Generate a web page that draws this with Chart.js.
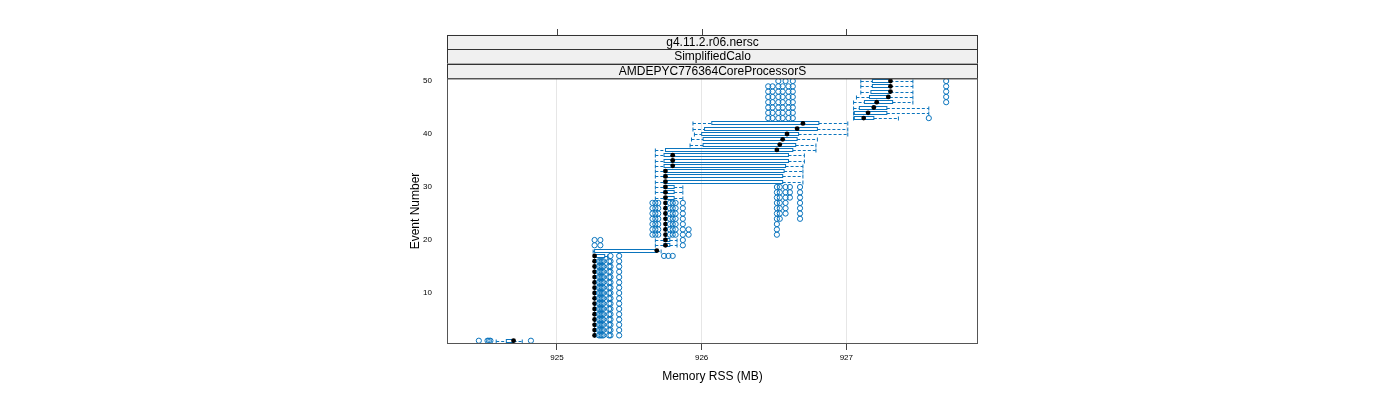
<!DOCTYPE html>
<html>
<head>
<meta charset="utf-8">
<title>Memory RSS per event</title>
<script src="https://cdn.jsdelivr.net/npm/chart.js@4.4.0/dist/chart.umd.min.js"></script>
<style>
    html, body { margin: 0; padding: 0; background: #fff; }
    #wrap { width: 1400px; height: 400px; }
</style>
</head>
<body>
<div id="wrap"><canvas id="rssChart" width="1400" height="400"></canvas></div>
<script>
// one row per event, values in MB
const eventNumbers = [1, 2, 3, 4, 5, 6, 7, 8, 9, 10, 11, 12, 13, 14, 15, 16, 17, 18, 19, 20, 21, 22, 23, 24, 25,
    26, 27, 28, 29, 30, 31, 32, 33, 34, 35, 36, 37, 38, 39, 40, 41, 42, 43, 44, 45, 46, 47, 48, 49, 50];

const whiskerLow = [924.58,
    925.26, 925.26, 925.26, 925.26, 925.26, 925.26, 925.26, 925.26, 925.26, 925.26, 925.26, 925.26, 925.26, 925.26, 925.26,
    925.26, 925.25, 925.68, 925.68,
    925.75, 925.75, 925.75, 925.75, 925.75, 925.75, 925.75,
    925.68, 925.68, 925.68,
    925.68, 925.68, 925.68, 925.68, 925.68, 925.68, 925.68,
    925.92, 925.93, 925.95, 925.94, 925.94,
    927.05, 927.05, 927.05, 927.05, 927.07, 927.10, 927.10, 927.10];

const boxLow = [924.65,
    925.26, 925.26, 925.26, 925.26, 925.26, 925.26, 925.26, 925.26, 925.26, 925.26, 925.26, 925.26, 925.26, 925.26, 925.26,
    925.26, 925.26, 925.74, 925.74,
    925.75, 925.75, 925.75, 925.75, 925.75, 925.75, 925.75,
    925.74, 925.74, 925.74,
    925.74, 925.74, 925.74, 925.74, 925.74, 925.74, 925.75,
    926.01, 926.01, 926.00, 926.02, 926.07,
    927.055, 927.055, 927.09, 927.125, 927.16, 927.17, 927.18, 927.18];

const medians = [924.70,
    925.26, 925.26, 925.26, 925.26, 925.26, 925.26, 925.26, 925.26, 925.26, 925.26, 925.26, 925.26, 925.26, 925.26, 925.26,
    925.26, 925.69, 925.75, 925.75,
    925.75, 925.75, 925.75, 925.75, 925.75, 925.75, 925.75,
    925.75, 925.75, 925.75,
    925.75, 925.75, 925.75, 925.80, 925.80, 925.80, 926.52,
    926.54, 926.56, 926.59, 926.66, 926.70,
    927.12, 927.15, 927.19, 927.21, 927.29, 927.305, 927.305, 927.305];

const boxHigh = [924.70,
    925.26, 925.26, 925.26, 925.26, 925.26, 925.26, 925.26, 925.26, 925.26, 925.26, 925.26, 925.26, 925.26, 925.26, 925.26,
    925.33, 925.69, 925.78, 925.78,
    925.75, 925.75, 925.75, 925.75, 925.75, 925.75, 925.75,
    925.81, 925.81, 925.81,
    926.56, 926.56, 926.57, 926.58, 926.60, 926.60, 926.63,
    926.65, 926.66, 926.67, 926.80, 926.81,
    927.19, 927.28, 927.28, 927.32, 927.30, 927.305, 927.305, 927.305];

const whiskerHigh = [924.76,
    925.26, 925.26, 925.26, 925.26, 925.26, 925.26, 925.26, 925.26, 925.26, 925.26, 925.26, 925.26, 925.26, 925.26, 925.26,
    925.35, 925.72, 925.83, 925.83,
    925.75, 925.75, 925.75, 925.75, 925.75, 925.75, 925.75,
    925.87, 925.87, 925.87,
    926.70, 926.70, 926.70, 926.70, 926.71, 926.71, 926.79,
    926.79, 926.80, 927.01, 927.01, 927.01,
    927.36, 927.57, 927.57, 927.46, 927.46, 927.46, 927.46, 927.46];

const outliers = [
    [924.46, 924.52, 924.53, 924.54, 924.82],
    [925.29, 925.30, 925.31, 925.32, 925.36, 925.37, 925.43],
    [925.29, 925.30, 925.31, 925.32, 925.36, 925.37, 925.43],
    [925.29, 925.30, 925.31, 925.32, 925.36, 925.37, 925.43],
    [925.29, 925.30, 925.31, 925.32, 925.36, 925.37, 925.43],
    [925.29, 925.30, 925.31, 925.32, 925.36, 925.37, 925.43],
    [925.29, 925.30, 925.31, 925.32, 925.36, 925.37, 925.43],
    [925.29, 925.30, 925.31, 925.32, 925.36, 925.37, 925.43],
    [925.29, 925.30, 925.31, 925.32, 925.36, 925.37, 925.43],
    [925.29, 925.30, 925.31, 925.32, 925.36, 925.37, 925.43],
    [925.29, 925.30, 925.31, 925.32, 925.36, 925.37, 925.43],
    [925.29, 925.30, 925.31, 925.32, 925.36, 925.37, 925.43],
    [925.29, 925.30, 925.31, 925.32, 925.36, 925.37, 925.43],
    [925.29, 925.30, 925.31, 925.32, 925.36, 925.37, 925.43],
    [925.29, 925.30, 925.31, 925.32, 925.36, 925.37, 925.43],
    [925.29, 925.30, 925.31, 925.32, 925.36, 925.37, 925.43],
    [925.37, 925.43, 925.74, 925.77, 925.80],
    [],
    [925.26, 925.30, 925.87],
    [925.26, 925.30, 925.87],
    [925.66, 925.68, 925.70, 925.78, 925.80, 925.82, 925.87, 925.91, 926.52],
    [925.66, 925.68, 925.70, 925.78, 925.80, 925.82, 925.87, 925.91, 926.52],
    [925.66, 925.68, 925.70, 925.78, 925.80, 925.82, 925.87, 926.52],
    [925.66, 925.68, 925.70, 925.78, 925.80, 925.82, 925.87, 926.52, 926.54, 926.68],
    [925.66, 925.68, 925.70, 925.78, 925.80, 925.82, 925.87, 926.52, 926.54, 926.58, 926.68],
    [925.66, 925.68, 925.70, 925.78, 925.80, 925.82, 925.87, 926.52, 926.54, 926.58, 926.68],
    [925.66, 925.68, 925.70, 925.78, 925.80, 925.82, 925.87, 926.52, 926.54, 926.58, 926.68],
    [926.52, 926.54, 926.58, 926.61, 926.68],
    [926.52, 926.54, 926.58, 926.61, 926.68],
    [926.52, 926.54, 926.58, 926.61, 926.68],
    [], [], [], [], [], [], [], [], [], [], [], [],
    [926.46, 926.49, 926.53, 926.56, 926.60, 926.63, 927.57],
    [926.46, 926.49, 926.53, 926.56, 926.60, 926.63],
    [926.46, 926.49, 926.53, 926.56, 926.60, 926.63],
    [926.46, 926.49, 926.53, 926.56, 926.60, 926.63, 927.69],
    [926.46, 926.49, 926.53, 926.56, 926.60, 926.63, 927.69],
    [926.46, 926.49, 926.53, 926.56, 926.60, 926.63, 927.69],
    [926.46, 926.49, 926.53, 926.56, 926.60, 926.63, 927.69],
    [926.53, 926.58, 926.63, 927.69]
];

const xTicks = [925, 926, 927];
const yTicks = [10, 20, 30, 40, 50];
const stripLabels = ['g4.11.2.r06.nersc', 'SimplifiedCalo', 'AMDEPYC776364CoreProcessorS'];

const BLUE = '#0a74bd';

Chart.defaults.font.family = '"Liberation Sans", Arial, Helvetica, sans-serif';
Chart.defaults.color = '#000';

// boxes + dashed whiskers, strips and panel frame
const boxPlotPlugin = {
    id: 'boxPlot',
    beforeDatasetsDraw(chart) {
        const { ctx, chartArea, scales: { x, y } } = chart;
        ctx.save();
        ctx.beginPath();
        ctx.rect(chartArea.left, chartArea.top, chartArea.width, chartArea.height);
        ctx.clip();
        ctx.strokeStyle = BLUE;
        ctx.lineWidth = 1;
        eventNumbers.forEach((ev, i) => {
            const cy = Math.round(y.getPixelForValue(ev));
            const py = cy + 0.5;
            const wl = x.getPixelForValue(whiskerLow[i]);
            const bl = x.getPixelForValue(boxLow[i]);
            const bh = x.getPixelForValue(boxHigh[i]);
            const wh = x.getPixelForValue(whiskerHigh[i]);

            ctx.setLineDash([3, 2]);
            ctx.beginPath();
            ctx.moveTo(wl, py); ctx.lineTo(bl, py);
            ctx.moveTo(bh, py); ctx.lineTo(wh, py);
            ctx.stroke();

            ctx.setLineDash([]);
            ctx.beginPath();
            ctx.moveTo(wl, py - 2); ctx.lineTo(wl, py + 2);
            ctx.moveTo(wh, py - 2); ctx.lineTo(wh, py + 2);
            ctx.stroke();

            ctx.strokeRect(bl, cy - 1.5, Math.max(bh - bl, 0.5), 3);
        });
        ctx.restore();
    },
    afterDraw(chart) {
        const { ctx, chartArea, scales: { x } } = chart;
        const { left, right, top, bottom } = chartArea;
        ctx.save();

        // strips
        const stripH = 14.4;
        const stripTop = top - stripH * stripLabels.length;
        ctx.font = '12px "Liberation Sans", Arial, sans-serif';
        ctx.textAlign = 'center';
        ctx.textBaseline = 'middle';
        stripLabels.forEach((label, k) => {
            const sy = stripTop + k * stripH;
            ctx.fillStyle = '#f0f0f0';
            ctx.fillRect(left, sy, right - left, stripH);
            ctx.strokeStyle = '#333';
            ctx.lineWidth = 1;
            ctx.strokeRect(left + 0.5, Math.round(sy) + 0.5, right - left - 1, stripH);
            ctx.fillStyle = '#000';
            ctx.fillText(label, (left + right) / 2, sy + stripH / 2 + 0.5);
        });

        // top tick marks
        ctx.strokeStyle = '#444';
        ctx.beginPath();
        xTicks.forEach(v => {
            const px = Math.round(x.getPixelForValue(v)) + 0.5;
            ctx.moveTo(px, Math.round(stripTop) - 6);
            ctx.lineTo(px, Math.round(stripTop));
        });
        ctx.stroke();

        // panel frame
        ctx.strokeStyle = '#555';
        ctx.strokeRect(left + 0.5, top + 0.5, right - left - 1, bottom - top - 1);
        ctx.restore();
    }
};

const medianPoints = eventNumbers.map((ev, i) => ({ x: medians[i], y: ev }));
const outlierPoints = [];
eventNumbers.forEach((ev, i) => {
    outliers[i].forEach(v => outlierPoints.push({ x: v, y: ev }));
});

new Chart(document.getElementById('rssChart'), {
    type: 'scatter',
    data: {
        datasets: [{
            label: 'outliers',
            data: outlierPoints,
            pointStyle: 'circle',
            pointRadius: 2.6,
            pointBorderWidth: 1,
            borderColor: BLUE,
            backgroundColor: 'rgba(0,0,0,0)'
        }, {
            label: 'median',
            data: medianPoints,
            pointStyle: 'circle',
            pointRadius: 2.4,
            pointBorderWidth: 0,
            borderColor: '#000',
            backgroundColor: '#000'
        }]
    },
    options: {
        responsive: false,
        animation: false,
        devicePixelRatio: 1,
        layout: { padding: { left: 400, right: 422, top: 78, bottom: 0 } },
        plugins: { legend: { display: false }, tooltip: { enabled: false } },
        scales: {
            x: {
                type: 'linear',
                min: 924.24,
                max: 927.91,
                afterBuildTicks: s => { s.ticks = xTicks.map(v => ({ value: v })); },
                afterFit: s => { s.height = 56; },
                ticks: { font: { size: 8 }, color: '#000', padding: 3, callback: v => String(v) },
                grid: { color: '#e6e6e6', tickColor: '#444', tickLength: 6 },
                border: { display: false },
                title: { display: true, text: 'Memory RSS (MB)', font: { size: 12 }, color: '#000', padding: { top: 0, bottom: 16 } }
            },
            y: {
                type: 'linear',
                min: 0.38,
                max: 50.57,
                afterBuildTicks: s => { s.ticks = yTicks.map(v => ({ value: v })); },
                afterFit: s => { s.width = 47; },
                ticks: { font: { size: 8 }, color: '#000', padding: 7 },
                grid: { display: false },
                border: { display: false },
                title: { display: true, text: 'Event Number', font: { size: 12 }, color: '#000', padding: { top: 8, bottom: 0 } }
            }
        }
    },
    plugins: [boxPlotPlugin]
});
</script>
</body>
</html>
